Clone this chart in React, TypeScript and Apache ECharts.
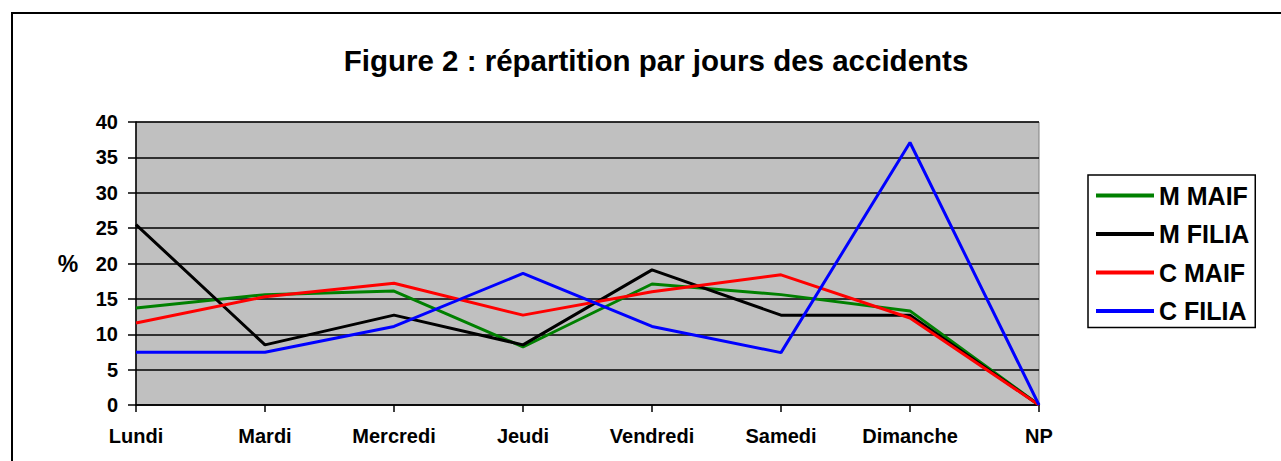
import React, { useEffect, useRef } from "react";
import * as echarts from "echarts";

const categories = ["Lundi", "Mardi", "Mercredi", "Jeudi", "Vendredi", "Samedi", "Dimanche", "NP"];
const seriesNames = ["M MAIF", "M FILIA", "C MAIF", "C FILIA"];
const mMaif = [13.7, 15.6, 16.1, 8.2, 17.1, 15.6, 13.3, 0];
const mFilia = [25.5, 8.5, 12.7, 8.5, 19.1, 12.7, 12.7, 0];
const cMaif = [11.6, 15.3, 17.2, 12.7, 16.0, 18.4, 12.3, 0];
const cFilia = [7.45, 7.45, 11.1, 18.6, 11.1, 7.4, 37.1, 0];
const seriesColors = ["#008000", "#000000", "#FF0000", "#0000FF"];
const titleText = "Figure 2 : répartition par jours des accidents";
const yName = "%";

const FONT = "'Liberation Sans', Arial, sans-serif";

export default function App() {
  const ref = useRef<HTMLDivElement>(null);
  useEffect(() => {
    if (!ref.current) return;
    const chart = echarts.init(ref.current, undefined, { renderer: "svg" });
    const data = [mMaif, mFilia, cMaif, cFilia];
    chart.setOption({
      animation: false,
      backgroundColor: "#ffffff",
      textStyle: { fontFamily: FONT },
      title: {
        text: titleText,
        left: 651,
        top: 40,
        textAlign: "center",
        textStyle: { fontFamily: FONT, fontWeight: "bold", fontSize: 29.5, color: "#000" },
      },
      graphic: [
        {
          type: "rect",
          shape: { x: 12, y: 13, width: 1400, height: 600 },
          style: { fill: "none", stroke: "#000", lineWidth: 2 },
          z: 100,
        },
        {
          type: "text",
          x: 68,
          y: 264,
          style: {
            text: yName,
            font: `bold 23px ${FONT}`,
            fill: "#000",
            textAlign: "center",
            textVerticalAlign: "middle",
          },
        },
      ],
      legend: {
        data: seriesNames,
        orient: "vertical",
        left: 1088,
        top: 175,
        padding: [8, 6, 4, 8],
        itemGap: 13.5,
        itemWidth: 58,
        itemHeight: 4,
        icon: "rect",
        borderColor: "#000",
        borderWidth: 1.5,
        textStyle: { fontFamily: FONT, fontWeight: "bold", fontSize: 25, lineHeight: 25, color: "#000" },
      },
      grid: {
        left: 136,
        right: 242,
        top: 122,
        bottom: 56,
        show: true,
        backgroundColor: "#C0C0C0",
        borderColor: "#808080",
        borderWidth: 1,
      },
      xAxis: {
        type: "category",
        data: categories,
        boundaryGap: false,
        axisLine: { lineStyle: { color: "#000", width: 1.5 } },
        axisTick: { show: true, length: 7, alignWithLabel: true, lineStyle: { color: "#000", width: 1.5 } },
        axisLabel: { color: "#000", fontWeight: "bold", fontSize: 20, fontFamily: FONT, margin: 21 },
        splitLine: { show: false },
      },
      yAxis: {
        type: "value",
        min: 0,
        max: 40,
        interval: 5,
        axisLine: { show: true, lineStyle: { color: "#000", width: 1.5 } },
        axisTick: { show: true, length: 8, lineStyle: { color: "#000", width: 1.5 } },
        axisLabel: { color: "#000", fontWeight: "bold", fontSize: 20, fontFamily: FONT, margin: 18 },
        splitLine: { show: true, lineStyle: { color: "#000", width: 1.5 } },
      },
      series: seriesNames.map((name, i) => ({
        name,
        type: "line",
        data: data[i],
        color: seriesColors[i],
        symbol: "none",
        lineStyle: { width: 3, color: seriesColors[i] },
      })),
    });
    return () => chart.dispose();
  }, []);
  return (
    <div
      ref={ref}
      style={{ position: "fixed", left: 0, top: 0, width: 1281, height: 461 }}
    />
  );
}
